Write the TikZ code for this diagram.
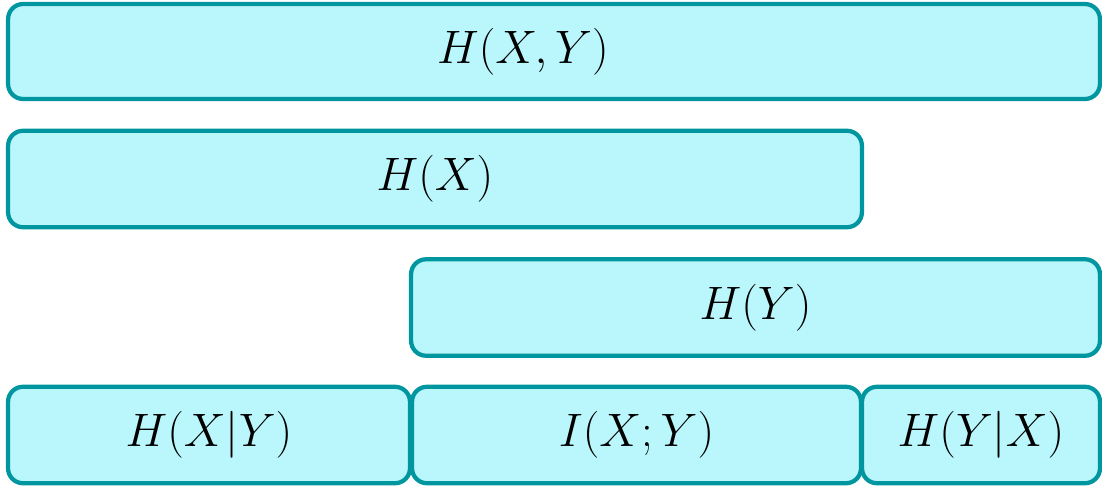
\documentclass[tikz,border=0pt]{standalone}
\usepackage{fix-cm}
\usepackage{amsmath}
\usepackage{tikz}
\usetikzlibrary{positioning}

\definecolor{boxfill}{RGB}{186,247,252}
\definecolor{boxline}{RGB}{0,150,160}

\begin{document}
\begin{tikzpicture}[
    x=0.02cm, y=-0.02cm,
    every node/.style={font=\fontsize{26.7}{32}\selectfont},
    entropy/.style={rectangle, rounded corners=0.3cm, draw=boxline, fill=boxfill,
                    line width=0.085cm, inner sep=0pt, minimum height=1.93cm},
    lbl/.style={inner sep=0pt}
]
\useasboundingbox (0,0) rectangle (1102,487);

% joint entropy
\node[entropy, minimum width=21.84cm, minimum height=1.9cm] (HXY) at (554,51.5) {};
\node[lbl] (HXYtext) at (523,51.5) {$H(X,Y)$};

% marginal entropies
\node[entropy, minimum width=17.08cm] (HX) at (435,179) {$H(X)$};
\node[entropy, minimum width=13.78cm] (HY) at (755.5,307.5) {$H(Y)$};

% conditional entropies and mutual information
\node[entropy, minimum width=8.04cm] (HXgY) at (209,435) {$H(X|Y)$};
\node[entropy, minimum width=8.98cm] (IXY) at (636.5,435) {$I(X;Y)$};
\node[entropy, minimum width=4.76cm] (HYgX) at (981,435) {$H(Y|X)$};

\end{tikzpicture}
\end{document}
